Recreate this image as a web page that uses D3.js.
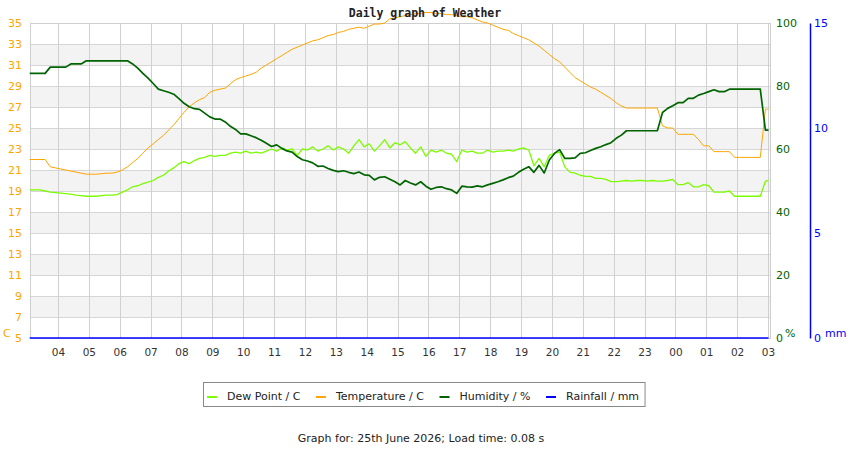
<!DOCTYPE html>
<html>
<head>
<meta charset="utf-8">
<script src="https://cdn.jsdelivr.net/npm/d3@7"></script>
<style>
  body { margin: 0; background: #fff; }
  svg { display: block; font-family: "DejaVu Sans", sans-serif; }
</style>
</head>
<body>
<div id="chart"></div>
<script>
// readings every 10 minutes, 03:05 on the 25th to 03:01 the next morning
const readingTimes = [
  "03:05","03:15","03:25","03:35","03:45","03:55",
  "04:05","04:15","04:25","04:35","04:45","04:55",
  "05:05","05:15","05:25","05:35","05:45","05:55",
  "06:05","06:15","06:25","06:35","06:45","06:55",
  "07:05","07:15","07:25","07:35","07:45","07:55",
  "08:05","08:15","08:25","08:35","08:45","08:55",
  "09:05","09:15","09:25","09:35","09:45","09:55",
  "10:05","10:15","10:25","10:35","10:45","10:55",
  "11:05","11:15","11:25","11:35","11:45","11:55",
  "12:05","12:15","12:25","12:35","12:45","12:55",
  "13:05","13:15","13:25","13:35","13:45","13:55",
  "14:05","14:15","14:25","14:35","14:45","14:55",
  "15:05","15:15","15:25","15:35","15:45","15:55",
  "16:05","16:15","16:25","16:35","16:45","16:55",
  "17:05","17:15","17:25","17:35","17:45","17:55",
  "18:05","18:15","18:25","18:35","18:45","18:55",
  "19:05","19:15","19:25","19:35","19:45","19:55",
  "20:05","20:15","20:25","20:35","20:45","20:55",
  "21:05","21:15","21:25","21:35","21:45","21:55",
  "22:05","22:15","22:25","22:35","22:45","22:55",
  "23:05","23:15","23:25","23:35","23:45","23:55",
  "00:05","00:15","00:25","00:35","00:45","00:55",
  "01:05","01:15","01:25","01:35","01:45","01:55",
  "02:05","02:15","02:25","02:35","02:45","02:55",
  "03:01"
];

const dewPoint = [
  19.1, 19.1, 19.1, 19.0, 18.9, 18.85,
  18.8, 18.75, 18.7, 18.6, 18.55, 18.5,
  18.5, 18.5, 18.55, 18.6, 18.6, 18.65,
  18.9, 19.1, 19.4, 19.5, 19.7, 19.85,
  20.0, 20.3, 20.5, 20.9, 21.2, 21.6,
  21.8, 21.6, 21.9, 22.1, 22.2, 22.4,
  22.3, 22.4, 22.4, 22.6, 22.7, 22.6,
  22.8, 22.6, 22.7, 22.6, 22.8, 23.0,
  22.8, 23.1, 22.9, 23.0, 22.4, 23.0,
  22.9, 23.2, 22.8, 23.0, 23.3, 22.9,
  23.2, 23.0, 22.6, 23.3, 23.9, 23.2,
  23.5, 22.8, 23.3, 23.9, 23.1, 23.6,
  23.4, 23.7, 23.1, 22.6, 23.2, 22.3,
  22.9, 22.7, 22.9, 22.6, 22.5, 21.8,
  22.9, 22.7, 22.8, 22.6, 22.6, 22.9,
  22.7, 22.8, 22.8, 22.9, 22.8, 23.0,
  23.1, 22.9, 21.4, 22.1, 21.3, 22.4,
  22.6, 22.7, 21.3, 20.8, 20.7, 20.5,
  20.4, 20.4, 20.2, 20.2, 20.1, 19.9,
  19.9, 19.95, 20.0, 19.95, 20.0, 20.0,
  19.95, 20.0, 19.95, 19.95, 20.0, 20.1,
  19.6, 19.6, 19.8, 19.4, 19.4, 19.6,
  19.5, 18.9, 18.9, 18.9, 19.0, 18.5,
  18.5, 18.5, 18.5, 18.5, 18.5, 19.95,
  20.0
];

const temperature = [
  22.0, 22.0, 22.0, 22.0, 21.3, 21.2,
  21.1, 21.0, 20.9, 20.8, 20.7, 20.6,
  20.6, 20.6, 20.65, 20.7, 20.7, 20.8,
  21.0, 21.3, 21.7, 22.1, 22.6, 23.1,
  23.5, 23.9, 24.3, 24.8, 25.3, 25.9,
  26.5, 27.0, 27.4, 27.7, 27.9, 28.4,
  28.6, 28.7, 28.8, 29.2, 29.6, 29.8,
  29.95, 30.1, 30.3, 30.7, 31.0, 31.3,
  31.6, 31.9, 32.2, 32.5, 32.7, 32.9,
  33.1, 33.3, 33.4, 33.6, 33.8, 33.9,
  34.1, 34.2, 34.4, 34.5, 34.6, 34.5,
  34.7, 34.9, 34.9, 35.0, 35.4, 35.5,
  35.6, 35.7, 35.8, 35.9, 35.9, 36.0,
  36.0, 35.9, 35.9, 35.8, 35.8, 35.7,
  35.6, 35.6, 35.5, 35.3, 35.1, 35.0,
  34.8, 34.6, 34.4, 34.3, 34.0, 33.8,
  33.6, 33.4, 33.1, 32.8, 32.4, 32.0,
  31.6, 31.3, 30.8, 30.3, 29.8, 29.5,
  29.2, 28.9, 28.7, 28.4, 28.1, 27.8,
  27.4, 27.1, 26.9, 26.9, 26.9, 26.9,
  26.9, 26.9, 26.9, 25.2, 25.0, 25.0,
  24.4, 24.4, 24.4, 24.4, 23.9, 23.3,
  23.3, 22.75, 22.75, 22.75, 22.75, 22.2,
  22.2, 22.2, 22.2, 22.2, 22.2, 26.8,
  26.8
];

const humidity = [
  84, 84, 84, 84, 86, 86,
  86, 86, 87, 87, 87, 88,
  88, 88, 88, 88, 88, 88,
  88, 88, 87, 85.7, 84, 82.5,
  80.8, 79, 78.5, 78, 77.4, 76,
  74.5, 73.4, 72.8, 72.6, 71.4, 70.2,
  69.5, 69.5, 68.6, 67.2, 66.2, 64.8,
  64.8, 64.2, 63.6, 62.8, 61.8, 60.8,
  61.3, 60.2, 59.4, 59.0, 57.6, 56.6,
  56.2, 55.6, 54.5, 54.6, 53.8, 53.2,
  52.8, 53.1, 52.6, 52.2, 52.7, 51.8,
  51.6, 50.2, 51.0, 51.2, 50.4, 49.6,
  48.6, 50.0, 49.2, 48.6, 49.6, 48.2,
  47.2, 47.8, 48.0, 47.4, 47.0, 45.9,
  48.2, 48.0, 47.9, 48.3, 48.0, 48.6,
  49.1, 49.6, 50.2, 50.9, 51.4, 52.6,
  53.6, 54.4, 52.6, 54.8, 52.4, 56.5,
  58.6, 59.8, 57.0, 57.0, 57.2, 58.6,
  58.8, 59.5, 60.2, 60.7, 61.4, 62.0,
  63.4, 64.4, 65.8, 65.8, 65.8, 65.8,
  65.8, 65.8, 65.8, 71.6, 72.9, 73.7,
  74.7, 74.7, 76.1, 76.1, 77.1, 77.6,
  78.2, 78.8, 78.2, 78.2, 79, 79,
  79, 79, 79, 79, 79, 66,
  66
];

const rainTimes = ["03:05", "03:01"];
const rainfall = [0, 0];

const hourTicks = [4, 5, 6, 7, 8, 9, 10, 11, 12, 13, 14, 15, 16, 17, 18, 19, 20, 21, 22, 23, 24, 25, 26, 27];
const hourLabels = ["04","05","06","07","08","09","10","11","12","13","14","15","16","17","18","19","20","21","22","23","00","01","02","03"];
const tempTicks = [5, 7, 9, 11, 13, 15, 17, 19, 21, 23, 25, 27, 29, 31, 33, 35];
const humTicks = [0, 20, 40, 60, 80, 100];
const rainTicks = [0, 5, 10, 15];

const series = [
  { name: "Dew Point / C", color: "#7cfc00", width: 1.3, axis: "temp", values: dewPoint },
  { name: "Temperature / C", color: "#ffa500", width: 1, axis: "temp", values: temperature },
  { name: "Humidity / %", color: "#006400", width: 1.7, axis: "hum", values: humidity },
  { name: "Rainfall / mm", color: "#0000ff", width: 1.6, axis: "rain", values: rainfall, times: rainTimes }
];

const W = 850, H = 450;
const plot = { left: 30, right: 770, top: 23, bottom: 338 };

const startH = hm(readingTimes[0]);
function hm(s) {
  const [h, m] = s.split(":").map(Number);
  return h + m / 60;
}
function toHours(s) {
  const v = hm(s);
  return v < startH - 0.001 ? v + 24 : v;
}

const svg = d3.select("#chart").append("svg")
  .attr("width", W)
  .attr("height", H);

const x = d3.scaleLinear().domain([3.093, 27.065]).range([plot.left, plot.right]);
const yT = d3.scaleLinear().domain([5, 35]).range([plot.bottom, plot.top]);
const yH = d3.scaleLinear().domain([0, 100]).range([plot.bottom, plot.top]);
const yR = d3.scaleLinear().domain([0, 15]).range([plot.bottom, plot.top]);
const scales = { temp: yT, hum: yH, rain: yR };

// alternating bands
const bands = tempTicks.slice(0, -1).filter((d, i) => i % 2 === 1);
svg.append("g").selectAll("rect")
  .data(bands)
  .enter().append("rect")
  .attr("x", plot.left)
  .attr("width", plot.right - plot.left)
  .attr("y", d => yT(d + 2))
  .attr("height", d => yT(d) - yT(d + 2))
  .attr("fill", "#f3f3f3");

// grid
svg.append("g").selectAll("line")
  .data(tempTicks.slice(1))
  .enter().append("line")
  .attr("x1", plot.left).attr("x2", plot.right)
  .attr("y1", d => Math.round(yT(d)) + 0.5).attr("y2", d => Math.round(yT(d)) + 0.5)
  .attr("stroke", "#d6d6d6");

svg.append("g").selectAll("line")
  .data(hourTicks)
  .enter().append("line")
  .attr("x1", d => Math.round(x(d)) + 0.5).attr("x2", d => Math.round(x(d)) + 0.5)
  .attr("y1", plot.top).attr("y2", plot.bottom)
  .attr("stroke", "#d0d0d0");

svg.append("rect")
  .attr("x", plot.left + 0.5).attr("y", plot.top + 0.5)
  .attr("width", plot.right - plot.left).attr("height", plot.bottom - plot.top)
  .attr("fill", "none").attr("stroke", "#cfcfcf");

// series lines
series.forEach(s => {
  const times = s.times || readingTimes;
  const pts = s.values.map((v, i) => [toHours(times[i]), v]);
  const line = d3.line()
    .x(d => x(d[0]))
    .y(d => scales[s.axis](d[1]));
  svg.append("path")
    .datum(pts)
    .attr("fill", "none")
    .attr("stroke", s.color)
    .attr("stroke-width", s.width)
    .attr("stroke-linejoin", "round")
    .attr("d", line);
});

// axes
function styleAxis(g, color, size) {
  g.select(".domain").remove();
  g.selectAll("text")
    .attr("fill", color)
    .style("font-family", "DejaVu Sans, sans-serif")
    .style("font-size", size + "px");
}

svg.append("g")
  .attr("transform", `translate(${plot.left},0)`)
  .call(d3.axisLeft(yT).tickValues(tempTicks).tickSize(0).tickPadding(8))
  .call(g => styleAxis(g, "#ffa500", 11));

svg.append("g")
  .attr("transform", `translate(${plot.right},0)`)
  .call(d3.axisRight(yH).tickValues(humTicks).tickSize(0).tickPadding(6))
  .call(g => styleAxis(g, "#006400", 11));

const rainAxis = svg.append("g")
  .attr("transform", `translate(810,0)`)
  .call(d3.axisRight(yR).tickValues(rainTicks).tickSize(0).tickPadding(4));
rainAxis.selectAll("text").attr("fill", "#0000ff").style("font-size", "11px")
  .style("font-family", "DejaVu Sans, sans-serif");
rainAxis.select(".domain").attr("stroke", "#0000ff").attr("stroke-width", 1.5);

svg.append("g")
  .attr("transform", `translate(0,${plot.bottom})`)
  .call(d3.axisBottom(x).tickValues(hourTicks).tickSize(0).tickPadding(11)
    .tickFormat((d, i) => hourLabels[i]))
  .call(g => styleAxis(g, "#333", 10.5));

// units
svg.append("text").attr("x", 3).attr("y", 337).text("C")
  .attr("fill", "#ffa500").style("font-size", "11px");
svg.append("text").attr("x", 785).attr("y", 337).text("%")
  .attr("fill", "#006400").style("font-size", "11px");
svg.append("text").attr("x", 825).attr("y", 337).text("mm")
  .attr("fill", "#0000ff").style("font-size", "11px");

// title
svg.append("text")
  .attr("x", 425).attr("y", 17)
  .attr("text-anchor", "middle")
  .style("font-family", "DejaVu Sans Mono, monospace")
  .style("font-weight", "bold")
  .style("font-size", "11.5px")
  .attr("fill", "#222")
  .text("Daily graph of Weather");

// legend
const legend = svg.append("g");
const legendBox = legend.append("rect")
  .attr("x", 203.5).attr("y", 382.5)
  .attr("height", 24)
  .attr("fill", "#fff").attr("stroke", "#888");
let lx = 207;
series.forEach(s => {
  legend.append("line")
    .attr("x1", lx).attr("x2", lx + 10)
    .attr("y1", 397).attr("y2", 397)
    .attr("stroke", s.color).attr("stroke-width", 2);
  const t = legend.append("text")
    .attr("x", lx + 20).attr("y", 400)
    .attr("fill", "#222")
    .style("font-size", "11px")
    .text(s.name);
  lx = lx + 20 + t.node().getComputedTextLength() + 15.5;
});
legendBox.attr("width", lx - 15.5 + 6 - 203.5);

svg.append("text")
  .attr("x", 421).attr("y", 442)
  .attr("text-anchor", "middle")
  .attr("fill", "#222")
  .style("font-size", "11px")
  .text("Graph for: 25th June 2026; Load time: 0.08 s");
</script>
</body>
</html>
